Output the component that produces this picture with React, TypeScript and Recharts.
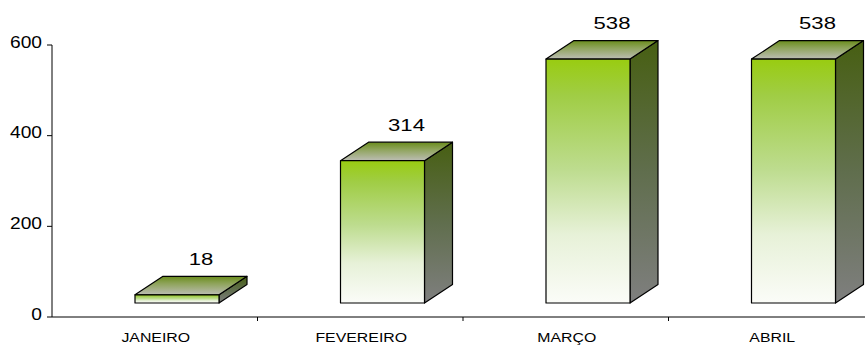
import { BarChart, Bar, XAxis, YAxis, LabelList } from "recharts"

const meses = ["JANEIRO", "FEVEREIRO", "MARÇO", "ABRIL"]
const valores = [18, 314, 538, 538]
const yTicks = [0, 200, 400, 600]

const data = meses.map((mes, i) => ({ mes, valor: valores[i] }))

// 3D box geometry: front face shifted right and lifted off the axis, depth goes up-right
const SHIFT_X = 22
const LIFT = 14
const DX = 28
const DY = 18.5

function Caixa3D(props: any) {
  const { x, y, width, height } = props
  const fx = x + SHIFT_X
  const fy = y - LIFT
  const fr = fx + width
  const fb = y + height - LIFT
  const topo = `${fx},${fy} ${fx + DX},${fy - DY} ${fr + DX},${fy - DY} ${fr},${fy}`
  const lado = `${fr},${fy} ${fr + DX},${fy - DY} ${fr + DX},${fb - DY} ${fr},${fb}`
  return (
    <g stroke="#000" strokeWidth={1.2} strokeLinejoin="round">
      <polygon points={lado} fill="url(#gradLado)" />
      <polygon points={topo} fill="url(#gradTopo)" />
      <rect x={fx} y={fy} width={width} height={fb - fy} fill="url(#gradFrente)" />
    </g>
  )
}

// text drawn a bit wider than the font's natural width
function TextoLargo({ x, y, sx, anchor, size, children }: any) {
  return (
    <text
      transform={`translate(${x},${y}) scale(${sx},1)`}
      textAnchor={anchor}
      fontSize={size}
      fill="#000"
    >
      {children}
    </text>
  )
}

function Rotulo(props: any) {
  const { x, y, width, value } = props
  return (
    <TextoLargo x={x + SHIFT_X + width / 2 + 24} y={y - LIFT - DY - 11.5} sx={1.3} anchor="middle" size={17}>
      {value}
    </TextoLargo>
  )
}

function ValorTick(props: any) {
  const { x, y, payload } = props
  return (
    <TextoLargo x={x} y={y + 2.7} sx={1.2} anchor="end" size={16}>
      {payload.value}
    </TextoLargo>
  )
}

function MesTick(props: any) {
  const { x, y, payload } = props
  const meio = payload.offset ?? 102.8
  return (
    <g>
      <line x1={x + meio} y1={y} x2={x + meio} y2={y + 4} stroke="#000" />
      <TextoLargo x={x + 1} y={y + 24.7} sx={1.22} anchor="middle" size={13}>
        {payload.value}
      </TextoLargo>
    </g>
  )
}

export default function App() {
  return (
    <div
      style={{
        position: "fixed",
        left: 0,
        top: 0,
        width: 865,
        height: 345,
        overflow: "hidden",
        background: "#fff",
        fontFamily: "'Liberation Sans', Arial, sans-serif",
      }}
    >
      <BarChart
        width={880}
        height={345}
        data={data}
        barSize={84}
        margin={{ top: 45, right: 6, left: 0, bottom: 0 }}
      >
        <defs>
          <linearGradient id="gradFrente" x1="0" y1="0" x2="0" y2="1">
            <stop offset="0" stopColor="#99cc11" />
            <stop offset="0.15" stopColor="#a0cd45" />
            <stop offset="0.45" stopColor="#bddc8e" />
            <stop offset="0.72" stopColor="#e7f1d8" />
            <stop offset="1" stopColor="#fbfcf8" />
          </linearGradient>
          <linearGradient id="gradLado" x1="0" y1="0" x2="0" y2="1">
            <stop offset="0" stopColor="#475f12" />
            <stop offset="0.5" stopColor="#606e4d" />
            <stop offset="1" stopColor="#7f7f7f" />
          </linearGradient>
          <linearGradient id="gradTopo" x1="0" y1="0" x2="0" y2="1">
            <stop offset="0" stopColor="#6a8c1c" />
            <stop offset="0.4" stopColor="#8fa45c" />
            <stop offset="1" stopColor="#bcbdb4" />
          </linearGradient>
        </defs>
        <XAxis
          dataKey="mes"
          height={28}
          axisLine={{ stroke: "#000" }}
          tickLine={false}
          tickSize={0}
          tickMargin={0}
          interval={0}
          tick={<MesTick />}
        />
        <YAxis
          width={52}
          domain={[0, 600]}
          ticks={yTicks}
          axisLine={{ stroke: "#000" }}
          tickLine={{ stroke: "#000" }}
          tickSize={5}
          tickMargin={5}
          tick={<ValorTick />}
        />
        <Bar dataKey="valor" shape={<Caixa3D />} isAnimationActive={false}>
          <LabelList dataKey="valor" content={<Rotulo />} />
        </Bar>
      </BarChart>
    </div>
  )
}
